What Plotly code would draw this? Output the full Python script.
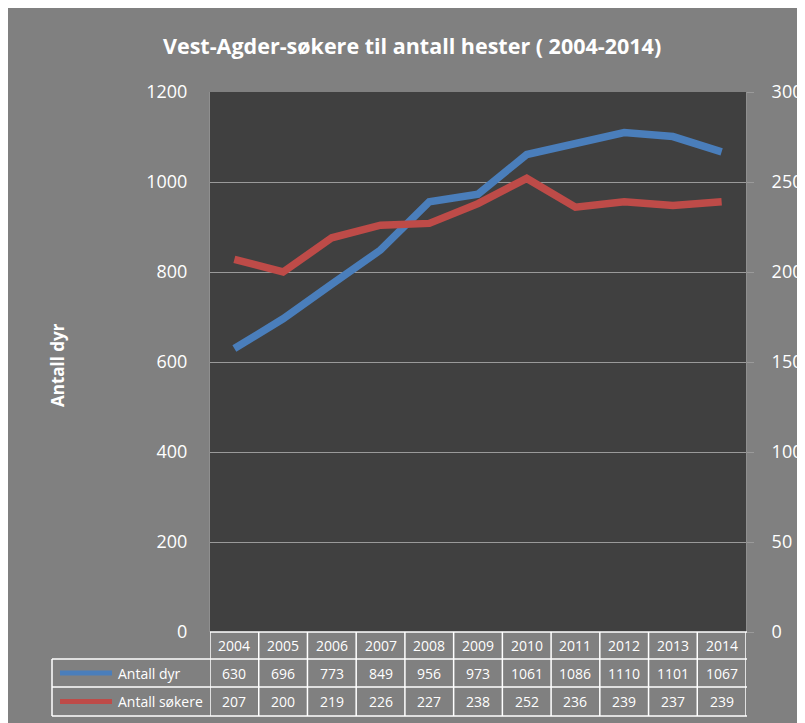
import plotly.graph_objects as go

years = ["2004", "2005", "2006", "2007", "2008", "2009", "2010", "2011", "2012", "2013", "2014"]
antall_dyr = [630, 696, 773, 849, 956, 973, 1061, 1086, 1110, 1101, 1067]
antall_sokere = [207, 200, 219, 226, 227, 238, 252, 236, 239, 237, 239]
series_names = ["Antall dyr", "Antall søkere"]
left_ticks = [0, 200, 400, 600, 800, 1000, 1200]
right_ticks = [0, 50, 100, 150, 200, 250, 300]

W, H = 805, 723
OFF = 8  # page body margin
L, T = 210 - OFF, 92 - OFF
PW, PH = 536, 540
R, B = W - L - PW, H - T - PH

def px(x):
    return (x - OFF - L) / PW

def py(y):
    return (T + PH + OFF - y) / PH

BLUE = "#4a7ebb"
RED = "#be4b48"
FONT = "Open Sans, Noto Sans, sans-serif"

xs = list(range(len(years)))

fig = go.Figure()
fig.add_trace(go.Scatter(x=xs, y=antall_dyr, mode="lines", name=series_names[0],
                         line=dict(color=BLUE, width=7.5), yaxis="y"))
fig.add_trace(go.Scatter(x=xs, y=antall_sokere, mode="lines", name=series_names[1],
                         line=dict(color=RED, width=7.5), yaxis="y2"))

shapes = []
# data table grid
top, r1, r2, bot = 632, 659, 687, 716
tl, tr = 52, 747
lc = dict(color="white", width=1.5)
shapes.append(dict(type="line", xref="paper", yref="paper", x0=px(210), x1=px(tr), y0=py(top), y1=py(top), line=lc))
for yy in (r1, r2, bot):
    shapes.append(dict(type="line", xref="paper", yref="paper", x0=px(tl), x1=px(tr), y0=py(yy), y1=py(yy), line=lc))
shapes.append(dict(type="line", xref="paper", yref="paper", x0=px(tl), x1=px(tl), y0=py(r1), y1=py(bot), line=lc))
for k in range(len(years) + 1):
    shapes.append(dict(type="line", xref="x", yref="paper", x0=k - 0.5, x1=k - 0.5, y0=py(top), y1=py(bot), line=lc))
# legend keys
for yy, col in (((r1 + r2) / 2, BLUE), ((r2 + bot) / 2, RED)):
    shapes.append(dict(type="line", xref="paper", yref="paper", x0=px(60), x1=px(112), y0=py(yy), y1=py(yy),
                       line=dict(color=col, width=5)))

ann = []
tf = dict(family=FONT, size=14, color="white")
for i, yr in enumerate(years):
    for yy, txt in (((top + r1) / 2, yr), ((r1 + r2) / 2, str(antall_dyr[i])), ((r2 + bot) / 2, str(antall_sokere[i]))):
        ann.append(dict(x=i, y=py(yy), xref="x", yref="paper", text=txt, showarrow=False, font=tf,
                        xanchor="center", yanchor="middle"))
ann.append(dict(x=px(116), y=py((r1 + r2) / 2), xref="paper", yref="paper", text=series_names[0], showarrow=False,
                xanchor="left", yanchor="middle", font=tf))
ann.append(dict(x=px(116), y=py((r2 + bot) / 2), xref="paper", yref="paper", text=series_names[1], showarrow=False,
                xanchor="left", yanchor="middle", font=tf))
# y axis title
ann.append(dict(x=px(57), y=py(365), xref="paper", yref="paper", text="<b>Antall dyr</b>", showarrow=False,
                textangle=-90, xanchor="center", yanchor="middle", font=dict(family=FONT, size=17, color="white")))
# chart title
ann.append(dict(x=px(412), y=py(46), xref="paper", yref="paper",
                text="<b>Vest-Agder-søkere til antall hester ( 2004-2014)</b>", showarrow=False,
                xanchor="center", yanchor="middle", font=dict(family=FONT, size=21.5, color="white")))

fig.update_layout(
    width=W, height=H,
    margin=dict(l=L, r=R, t=T, b=B),
    paper_bgcolor="#808080",
    plot_bgcolor="#404040",
    showlegend=False,
    shapes=shapes,
    annotations=ann,
    xaxis=dict(range=[-0.5, len(years) - 0.5], showgrid=False, showticklabels=False, zeroline=False,
               showline=False, ticks=""),
    yaxis=dict(range=[0, 1200], tickvals=left_ticks, showgrid=True, gridcolor="#9a9a9a", gridwidth=1,
               zeroline=False, showline=True, linecolor="#8f8f8f", linewidth=1,
               tickfont=dict(family=FONT, size=18, color="white"), ticks="", ticklabelstandoff=18),
    yaxis2=dict(range=[0, 300], tickvals=right_ticks, overlaying="y", side="right", showgrid=False,
                zeroline=False, showline=True, linecolor="#8f8f8f", linewidth=1,
                ticks="outside", ticklen=7, tickcolor="#9a9a9a",
                tickfont=dict(family=FONT, size=18, color="white"), ticklabelstandoff=14),
)

fig.write_html("out.html")
